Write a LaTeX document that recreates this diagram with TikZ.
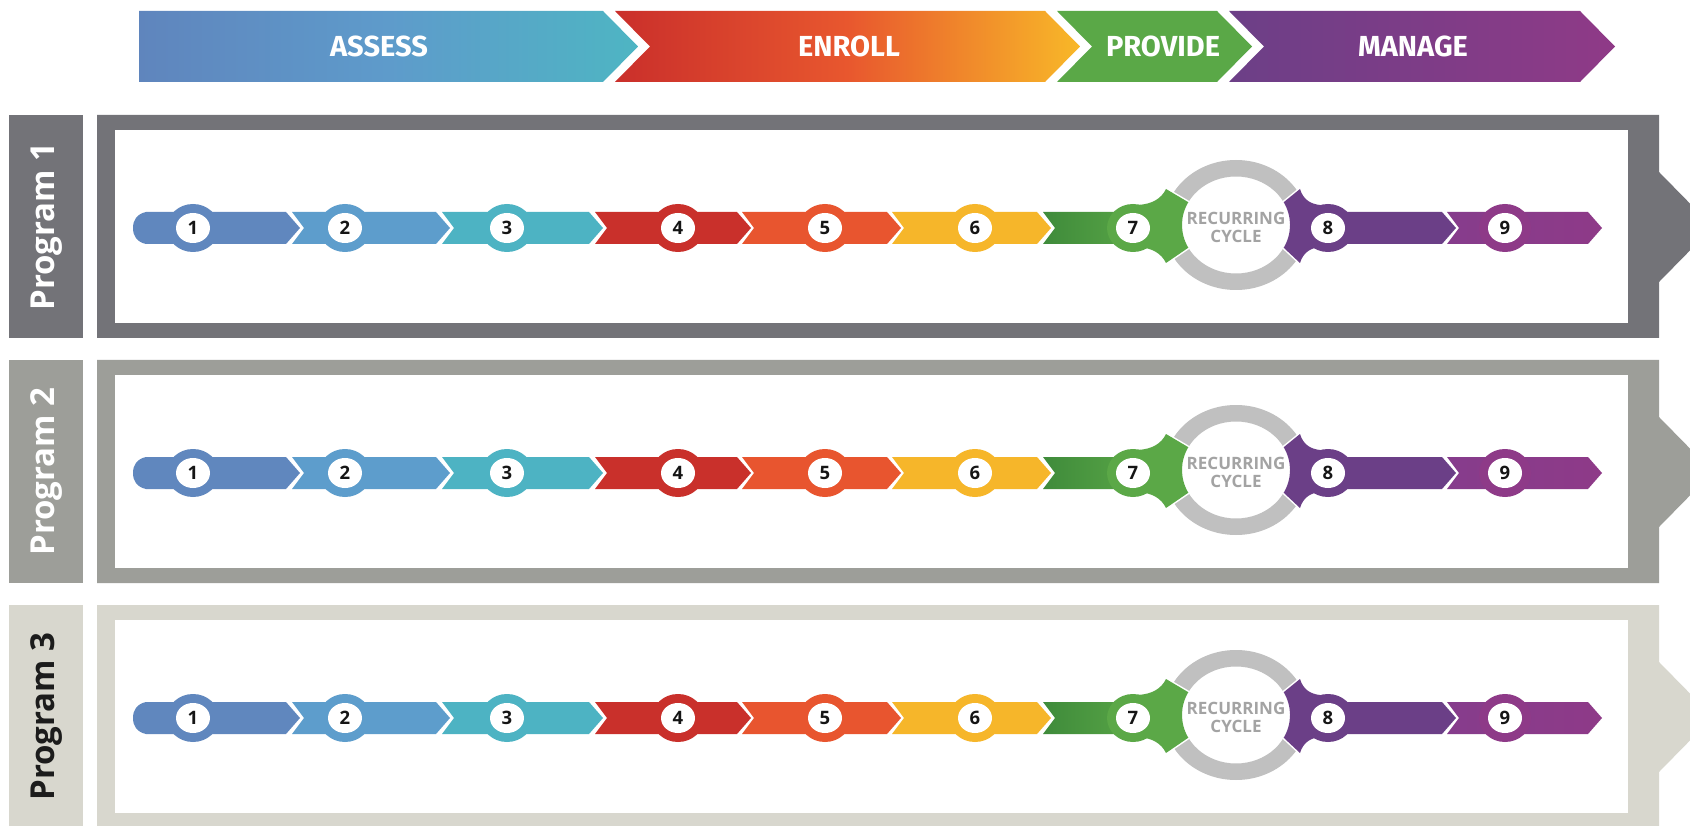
\documentclass[tikz,border=0pt]{standalone}
\usepackage{fontspec}
\setmainfont{Open Sans}
\newfontfamily\bannerfont{Fira Sans}
\definecolor{frameA}{HTML}{737378}
\definecolor{frameB}{HTML}{9D9E99}
\definecolor{frameC}{HTML}{D8D7CE}
\definecolor{labelink}{HTML}{1C1C1C}
\definecolor{numblack}{HTML}{151515}
\definecolor{ringgrey}{HTML}{C0C0C0}
\definecolor{cyclegrey}{HTML}{A3A3A3}
\definecolor{asA}{HTML}{5F85BD}
\definecolor{asM}{HTML}{5E9BCB}
\definecolor{asB}{HTML}{4EB5C3}
\definecolor{enA}{HTML}{CA2F2B}
\definecolor{enM}{HTML}{E8572E}
\definecolor{enB}{HTML}{F8B828}
\definecolor{pvC}{HTML}{5AA847}
\definecolor{maA}{HTML}{6C3F87}
\definecolor{maB}{HTML}{8F3A87}
\definecolor{sOne}{HTML}{6087BE}
\definecolor{sTwo}{HTML}{5D9DCC}
\definecolor{sThree}{HTML}{4DB3C3}
\definecolor{sFour}{HTML}{C9302B}
\definecolor{sFive}{HTML}{E8552F}
\definecolor{sSix}{HTML}{F6B62A}
\definecolor{sSevenA}{HTML}{3F8B3B}
\definecolor{sSeven}{HTML}{5BA847}
\definecolor{sEight}{HTML}{6B3F87}
\definecolor{sNineA}{HTML}{863C8C}
\definecolor{sNine}{HTML}{8E3A88}
\tikzset{
  bannertext/.style={text=white, font=\bannerfont\bfseries\fontsize{29}{29}\selectfont, inner sep=0pt},
  numtext/.style={text=numblack, font=\bfseries\fontsize{18.5}{18.5}\selectfont, inner sep=0pt},
  progtext/.style={rotate=90, font=\bfseries\fontsize{33}{33}\selectfont, inner sep=0pt},
  cycletext/.style={text=cyclegrey, font=\bfseries\fontsize{17}{17.5}\selectfont, align=center, inner sep=0pt},
  gapline/.style={draw=white, line width=3pt},
}
\newcommand\chevstep[3]{%
  \fill[#1] (#2,212) -- (#3,212) -- ({#3+14},228) -- (#3,244) -- (#2,244) -- ({#2+12},228) -- cycle;}
\newcommand\numbadge[4]{%
  \fill[#1] (#2,228) ellipse [x radius=26, y radius=24];
  \fill[white] (#2,228) ellipse [x radius=17, y radius=15];
  \node[numtext] (#4) at (#2,228) {#3};}
\newcommand\greencres{(1132,212) -- (1138,205) .. controls (1152,204) and (1161,199) .. (1166,189) -- (1188.3,202.2) arc[start angle=-152, end angle=-208, x radius=54, y radius=48.5] -- (1166,263) .. controls (1161,253) and (1152,248) .. (1138,247) -- (1132,244) -- cycle}
\newcommand\purplecres{(1328,212) -- (1320,205) .. controls (1310,204) and (1303,199) .. (1300,189) -- (1283.7,202.2) arc[start angle=-28, end angle=28, x radius=54, y radius=48.5] -- (1300,263) .. controls (1303,253) and (1310,248) .. (1320,247) -- (1328,244) -- cycle}
\begin{document}
\begin{tikzpicture}[x=1pt,y=-1pt]
\useasboundingbox (0,0) rectangle (1690,826);
\fill[white] (0,0) rectangle (1690,826);
% banner
\shade[left color=asA, right color=asB, middle color=asM] (139,11) -- (603,11) -- (638,46.5) -- (603,82) -- (139,82) -- cycle;
\shade[left color=enA, right color=enB, middle color=enM] (615,11) -- (1045,11) -- (1080,46.5) -- (1045,82) -- (615,82) -- (650,46.5) -- cycle;
\fill[pvC] (1057,11) -- (1217,11) -- (1252,46.5) -- (1217,82) -- (1057,82) -- (1092,46.5) -- cycle;
\shade[left color=maA, right color=maB] (1229,11) -- (1580,11) -- (1615,46.5) -- (1580,82) -- (1229,82) -- (1264,46.5) -- cycle;
\node[bannertext] (assess) at (379,46.5) {ASSESS};
\node[bannertext] (enroll) at (849,46.5) {ENROLL};
\node[bannertext] (provide) at (1163,46.5) {PROVIDE};
\node[bannertext] (manage) at (1413,46.5) {MANAGE};
% rows
\foreach \r/\off/\fc/\tc in {1/0/frameA/white, 2/245/frameB/white, 3/490/frameC/labelink}{
\begin{scope}[shift={(0,\off)}]
  \fill[\fc] (9,115) rectangle (83,338);
  \node[progtext, text=\tc] (prog\r) at (47,226.5) {Program \r};
  \fill[\fc] (97,115) -- (1659,115) -- (1659,172) -- (1713,227) -- (1659,282) -- (1659,338) -- (97,338) -- cycle;
  \fill[white] (115,130) rectangle (1628,323);
  % cycle ring
  \fill[ringgrey, even odd rule] (1236,225) ellipse [x radius=72, y radius=65] (1236,225) ellipse [x radius=54, y radius=48.5];
  % steps 1-6
  \fill[sOne] (146,212) -- (286,212) -- (300,228) -- (286,244) -- (146,244) .. controls (137,242) and (133,236) .. (133,228) .. controls (133,220) and (137,214) .. (146,212) -- cycle;
  \chevstep{sTwo}{292}{436}
  \chevstep{sThree}{442}{589}
  \chevstep{sFour}{595}{737}
  \chevstep{sFive}{742}{887}
  \chevstep{sSix}{892}{1037}
  % step 7
  \shade[left color=sSevenA, right color=sSeven] (1043,212) -- (1150,212) -- (1150,244) -- (1043,244) -- (1055,228) -- cycle;
  \path[gapline] \greencres;
  \fill[sSeven] \greencres;
  % step 8
  \path[gapline] \purplecres;
  \fill[sEight] \purplecres;
  \fill[sEight] (1300,212) -- (1442,212) -- (1456,228) -- (1442,244) -- (1300,244) -- cycle;
  % step 9
  \shade[left color=sNineA, right color=sNine] (1447,212) -- (1588,212) -- (1602,228) -- (1588,244) -- (1447,244) -- (1459,228) -- cycle;
  % badges
  \numbadge{sOne}{193}{1}{n\r-1}
  \numbadge{sTwo}{345}{2}{n\r-2}
  \numbadge{sThree}{507}{3}{n\r-3}
  \numbadge{sFour}{678}{4}{n\r-4}
  \numbadge{sFive}{825}{5}{n\r-5}
  \numbadge{sSix}{975}{6}{n\r-6}
  \numbadge{sSeven}{1133}{7}{n\r-7}
  \numbadge{sEight}{1328}{8}{n\r-8}
  \numbadge{sNine}{1505}{9}{n\r-9}
  \node[cycletext] (cyc\r) at (1236,227.5) {RECURRING\\CYCLE};
\end{scope}}
\end{tikzpicture}
\end{document}
